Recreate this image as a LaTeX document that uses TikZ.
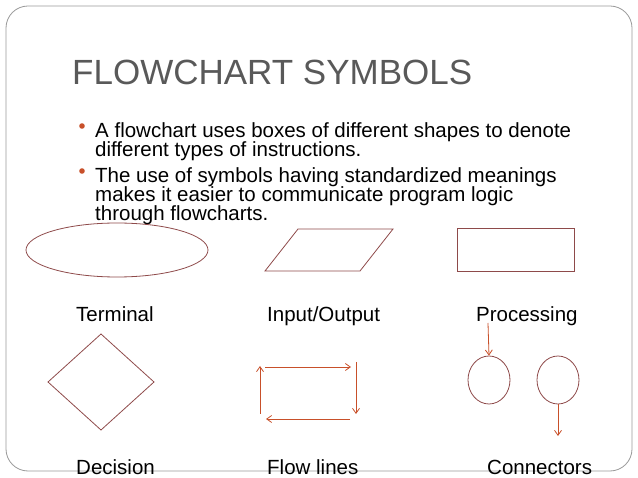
\documentclass[tikz,border=0pt]{standalone}
\usepackage{fontspec}
\setmainfont{Liberation Sans}
\usetikzlibrary{arrows.meta,shapes.geometric}
\definecolor{shp}{HTML}{8E4A4A}
\definecolor{arr}{HTML}{C8502A}
\definecolor{ttl}{HTML}{595959}
\begin{document}
\begin{tikzpicture}[x=1pt,y=-1pt,
  sym/.style={draw=shp,line width=0.8pt},
  fl/.style={draw=arr,line width=0.8pt,-{Straight Barb[length=5pt,width=7pt]}},
  lbl/.style={anchor=base west,inner sep=0pt,font=\fontsize{20.5}{24}\selectfont},
  txt/.style={anchor=base west,inner sep=0pt,font=\fontsize{20.5}{24}\selectfont}]
\useasboundingbox (0,0) rectangle (638,478);
\draw[gray!80,line width=0.8pt,rounded corners=22pt] (6,6) rectangle (632,471);
\node[anchor=base west,inner sep=0pt,text=ttl,font=\fontsize{35}{40}\selectfont] (title) at (72,85) {FLOWCHART SYMBOLS};
\fill[arr] (82,126) circle (2.8) coordinate (b1);
\fill[arr] (82,171) circle (2.8) coordinate (b2);
\node[txt] (t1a) at (95,138) {A flowchart uses boxes of different shapes to denote};
\node[txt] (t1b) at (95,157) {different types of instructions.};
\node[txt] (t2a) at (95,183) {The use of symbols having standardized meanings};
\node[txt] (t2b) at (95,202) {makes it easier to communicate program logic};
\node[txt] (t2c) at (95,221) {through flowcharts.};
% shapes
\draw[sym] (117,250) ellipse (91 and 27);
\draw[sym] (298,229) -- (393,229) -- (360,271) -- (265,271) -- cycle;
\draw[sym] (457,228) rectangle (574,271);
\node[lbl] (l1) at (76,322) {Terminal};
\node[lbl] (l2) at (267,322) {Input/Output};
\node[lbl] (l3) at (476,322) {Processing};
\draw[sym] (101,334) -- (154,382) -- (101,430) -- (48,382) -- cycle;
\coordinate (a1) at (260,414); \coordinate (a2) at (260,366);
\coordinate (a3) at (265,367); \coordinate (a4) at (351,367);
\coordinate (a5) at (356,362); \coordinate (a6) at (356,414);
\coordinate (a7) at (350,419); \coordinate (a8) at (266,419);
\draw[fl] (a1) -- (a2);
\draw[fl] (a3) -- (a4);
\draw[fl] (a5) -- (a6);
\draw[fl] (a7) -- (a8);
\node[sym,ellipse,minimum width=42pt,minimum height=48pt,inner sep=0pt] (c1) at (489,380) {};
\node[sym,ellipse,minimum width=42pt,minimum height=48pt,inner sep=0pt] (c2) at (558,380) {};
\coordinate (p1) at (488,323);
\coordinate (p2) at (558,436);
\draw[fl] (p1) -- (c1.north);
\draw[fl] (c2.south) -- (p2);
\node[lbl] (l4) at (76,475) {Decision};
\node[lbl] (l5) at (267,475) {Flow lines};
\node[lbl] (l6) at (487,475) {Connectors};
\end{tikzpicture}
\end{document}
